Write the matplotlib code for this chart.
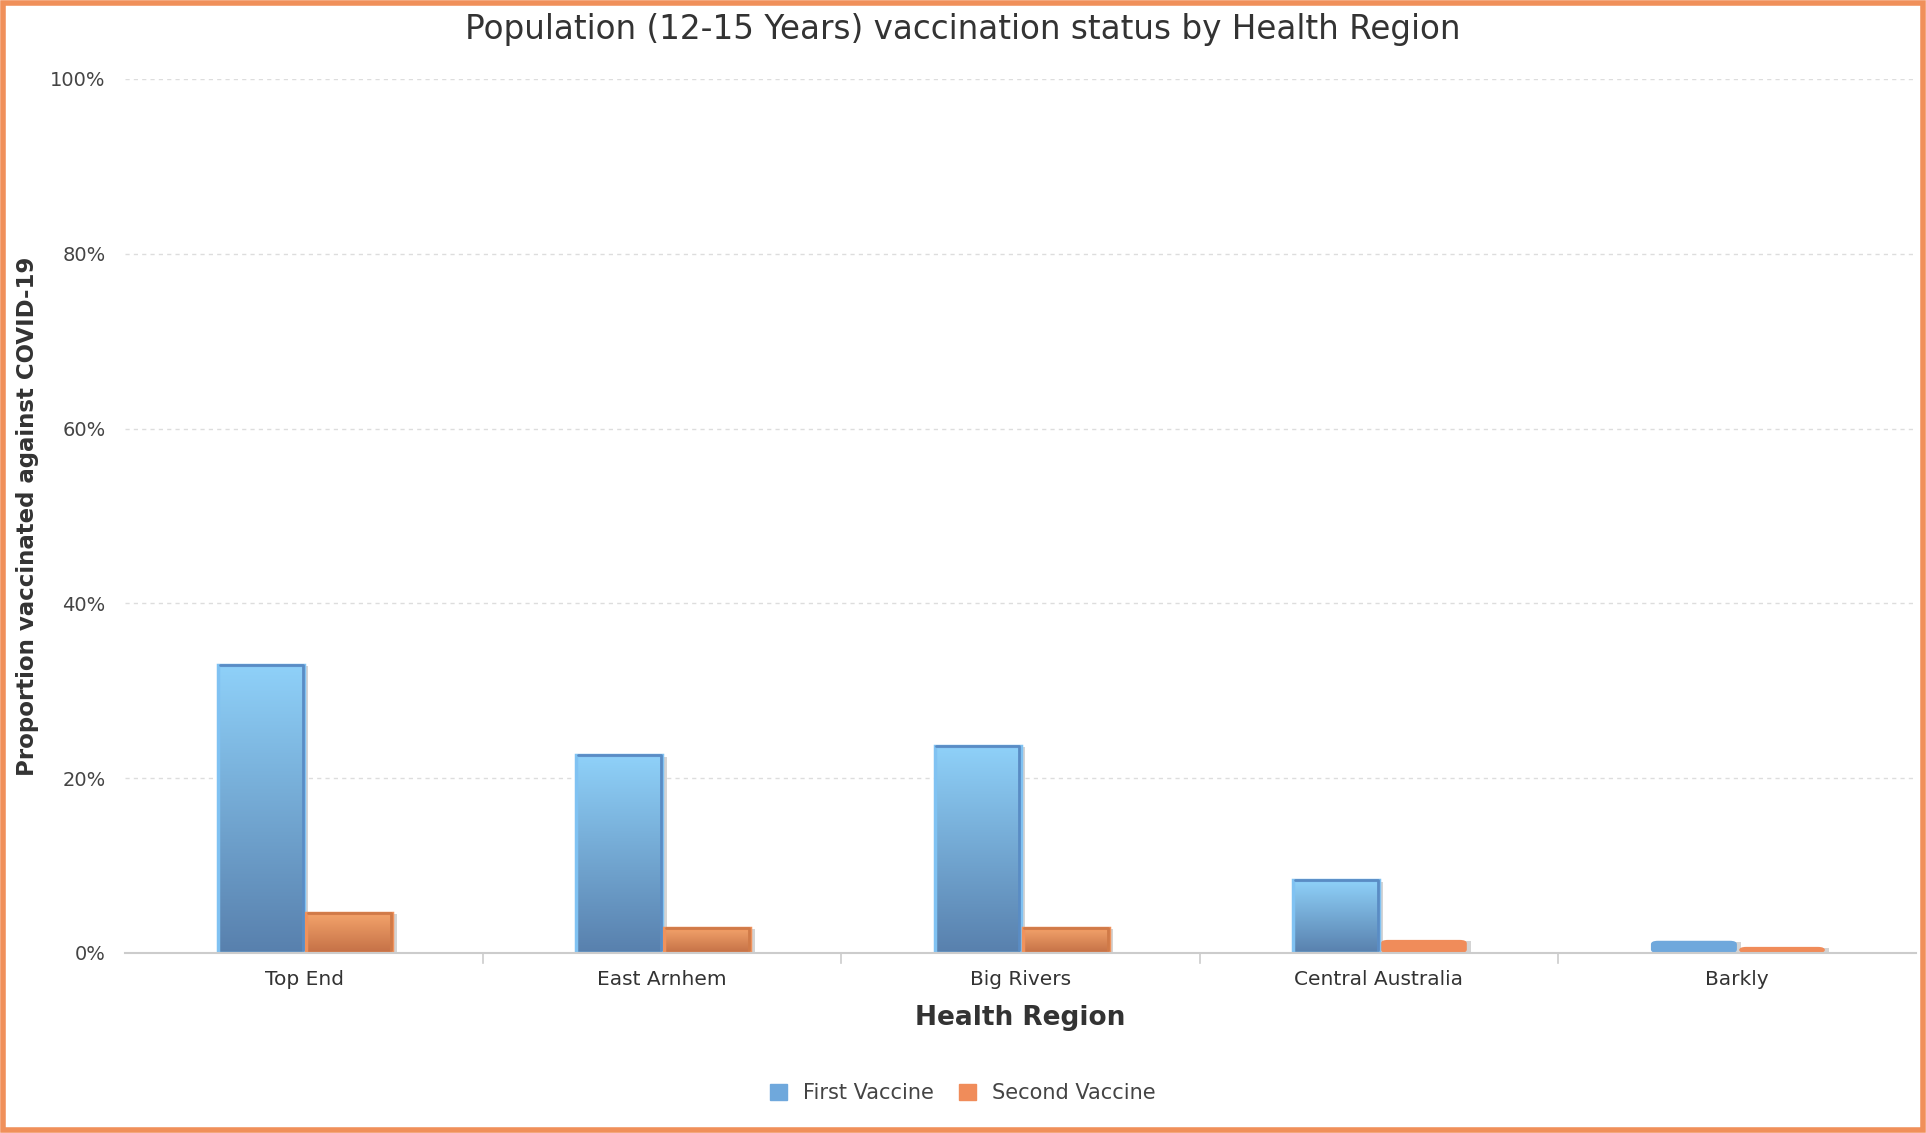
import numpy as np
import matplotlib.pyplot as plt
from matplotlib.colors import LinearSegmentedColormap
from matplotlib.patches import Rectangle, FancyBboxPatch

regions = ["Top End", "East Arnhem", "Big Rivers", "Central Australia", "Barkly"]
first_vaccine = [33.0, 22.6, 23.7, 8.3, 1.4]
second_vaccine = [4.6, 2.9, 2.9, 1.5, 0.7]

title = "Population (12-15 Years) vaccination status by Health Region"
y_ticks = [0, 20, 40, 60, 80, 100]

blue_cmap = LinearSegmentedColormap.from_list("blue", ["#5880ad", "#8fd1f9"])
orange_cmap = LinearSegmentedColormap.from_list("orange", ["#c47046", "#f5a56c"])

fig = plt.figure(figsize=(19.26, 11.33), dpi=100)
ax = fig.add_axes([125 / 1926, 1 - 953 / 1133, (1916 - 125) / 1926, (953 - 79) / 1133])

width = 0.24
gap = 0.006
grad = np.linspace(0, 1, 256).reshape(-1, 1)


def gradient_bar(x0, h, cmap, edge, dark, flat):
    if h <= 0:
        return
    # drop shadow
    ax.add_patch(Rectangle((x0 + 0.012, 0), width, h - 0.15, facecolor="#b8b8b8",
                           edgecolor="none", alpha=0.6, zorder=2))
    if h < 1.6:
        ax.add_patch(FancyBboxPatch((x0, 0), width, h, boxstyle="round,pad=0,rounding_size=0.02",
                                    mutation_aspect=20, facecolor=flat, edgecolor="none", zorder=3))
        return
    im = ax.imshow(grad, cmap=cmap, aspect="auto", origin="lower",
                   extent=(x0, x0 + width, 0, h), zorder=3)
    rect = Rectangle((x0, 0), width, h, facecolor="none", edgecolor=edge, linewidth=2.5, zorder=4)
    ax.add_patch(rect)
    im.set_clip_path(rect)
    # darker top and right rim for the 3d look
    ax.plot([x0 + 0.005, x0 + width - 0.003, x0 + width - 0.003], [h, h, 0.3],
            color=dark, lw=2, zorder=5, solid_capstyle="round")


x = np.arange(len(regions))
for i in range(len(regions)):
    gradient_bar(x[i] - width, first_vaccine[i], blue_cmap, "#80c2f2", "#5a8cc4", "#6fa8dc")
    gradient_bar(x[i] + gap, second_vaccine[i], orange_cmap, "#f0925c", "#d07a48", "#f08c5a")

ax.set_xlim(-0.5, len(regions) - 0.5)
ax.set_ylim(0, 100)
ax.set_yticks(y_ticks)
ax.set_yticklabels([f"{t}%" for t in y_ticks], fontsize=14, color="#444444")
ax.set_xticks(x)
ax.set_xticklabels(regions, fontsize=14.5, color="#333333")
ax.tick_params(axis="x", length=0, pad=12)
ax.tick_params(axis="y", length=0, pad=14)
for b in np.arange(0.5, len(regions) - 1, 1.0):
    ax.plot([b, b], [0, -1.2], color="#cccccc", lw=1.2, clip_on=False)

ax.grid(axis="y", linestyle=(0, (3, 3)), color="#dddddd", linewidth=1)
ax.set_axisbelow(True)
for s in ["top", "right", "left"]:
    ax.spines[s].set_visible(False)
ax.spines["bottom"].set_color("#cccccc")
ax.spines["bottom"].set_linewidth(1.5)
ax.spines["bottom"].set_zorder(6)

ax.set_xlabel("Health Region", fontsize=19, fontweight="bold", color="#333333", labelpad=12)
ax.set_ylabel("Proportion vaccinated against COVID-19", fontsize=16.5, fontweight="bold",
              color="#333333", labelpad=8)
fig.text(0.5, 1 - 30 / 1133, title, ha="center", va="center", fontsize=23.5, color="#333333")

handles = [Rectangle((0, 0), 1, 1, color="#6fa8dc"), Rectangle((0, 0), 1, 1, color="#f08c5a")]
fig.legend(handles, ["First Vaccine", "Second Vaccine"], loc="center",
           bbox_to_anchor=(0.5, 1 - 1093 / 1133), ncol=2, frameon=False, fontsize=15,
           handlelength=0.8, handleheight=0.8, handletextpad=0.8, columnspacing=1.2,
           labelcolor="#444444")

fig.add_artist(Rectangle((0.0015, 0.0025), 0.997, 0.995, transform=fig.transFigure,
                         fill=False, edgecolor="#f0905a", linewidth=4))

fig.savefig("out.png", dpi=100)
